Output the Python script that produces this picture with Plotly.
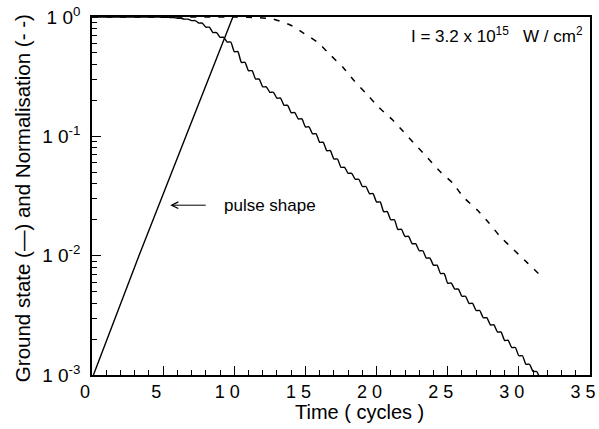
import plotly.graph_objects as go

# ---- data ----
pulse_t = [0.1, 3.3, 6.6, 9.9]
pulse_v = [0.001, 0.01, 0.1, 1.0]

# ground state: level reached at each half cycle
gs_t = [0.0, 4.5, 5.0, 5.5, 6.0, 6.5, 7.0, 7.5, 8.0, 8.5, 9.0, 9.5, 10.0, 10.5, 11.0, 11.5,
        12.0, 12.5, 13.0, 13.5, 14.0, 14.5, 15.0, 15.5, 16.0, 16.5, 17.0, 17.5, 18.0, 18.5,
        19.0, 19.5, 20.0, 20.5, 21.0, 21.5, 22.0, 22.5, 23.0, 23.5, 24.0, 24.5, 25.0, 25.5,
        26.0, 26.5, 27.0, 27.5, 28.0, 28.5, 29.0, 29.5, 30.0, 30.5, 31.0, 31.5]
gs_v = [1.0, 0.998, 0.995, 0.99, 0.975, 0.96, 0.933, 0.89, 0.822, 0.741, 0.676, 0.617, 0.513,
        0.417, 0.355, 0.302, 0.260, 0.234, 0.209, 0.182, 0.158, 0.140, 0.120, 0.105, 0.0891,
        0.0759, 0.0646, 0.0550, 0.0490, 0.0437, 0.0380, 0.0331, 0.0282, 0.0234, 0.0200,
        0.0166, 0.0145, 0.0126, 0.0110, 0.00955, 0.00832, 0.00708, 0.00589, 0.00525,
        0.00457, 0.00398, 0.00347, 0.00302, 0.00263, 0.00229, 0.00195, 0.00170, 0.00145,
        0.00123, 0.00107, 0.00092]

norm_t = [0.0, 10.0, 11.0, 12.0, 12.75, 13.94, 14.86, 15.92, 16.76, 17.68, 18.38, 19.23,
          20.14, 21.13, 21.9, 22.75, 23.6, 24.5, 25.35, 26.1, 27.1, 27.9, 28.7, 29.65,
          30.6, 31.7]
norm_v = [1.0, 1.0, 0.995, 0.98, 0.96, 0.857, 0.734, 0.605, 0.48, 0.374, 0.296, 0.231,
          0.176, 0.137, 0.109, 0.0845, 0.0658, 0.0502, 0.0406, 0.031, 0.024, 0.0188,
          0.0144, 0.0112, 0.0087, 0.0065]

x_ticks = [0, 5, 10, 15, 20, 25, 30, 35]
x_labels = ["0", "5", "1 0", "1 5", "2 0", "2 5", "3 0", "3 5"]
y_ticks = [0.001, 0.01, 0.1, 1.0]
y_labels = ["1 0<sup>-3</sup>", "1 0<sup>-2</sup>", "1 0<sup>-1</sup>", "1 0<sup>0</sup>"]

# staircase: each half-cycle level is held briefly, then drops to the next
hold = 0.25
st_x, st_y = [], []
for i, (t, v) in enumerate(zip(gs_t, gs_v)):
    st_x.append(t)
    st_y.append(v)
    if i < len(gs_t) - 1:
        st_x.append(t + hold)
        st_y.append(v)

FONT = "Liberation Sans, Arial, sans-serif"

fig = go.Figure()
fig.add_trace(go.Scatter(x=pulse_t, y=pulse_v, mode="lines",
                         line=dict(color="black", width=1.4), showlegend=False))
fig.add_trace(go.Scatter(x=st_x, y=st_y, mode="lines",
                         line=dict(color="black", width=1.4, shape="spline", smoothing=0.6),
                         showlegend=False))
fig.add_trace(go.Scatter(x=norm_t, y=norm_v, mode="lines",
                         line=dict(color="black", width=1.5, dash="6px,8px",
                                   shape="spline", smoothing=0.6),
                         showlegend=False))

fig.add_annotation(x=5.5, y=-1.577, xref="x", yref="y", text="",
                   showarrow=True, arrowhead=5, arrowsize=1.3, arrowwidth=1,
                   arrowcolor="black", ax=37, ay=0)
fig.add_annotation(x=9.15, y=-1.577, xref="x", yref="y", text="pulse shape",
                   showarrow=False, xanchor="left", yanchor="middle",
                   font=dict(family=FONT, size=17, color="black"))
fig.add_annotation(x=0.99, y=0.95, xref="paper", yref="paper",
                   text="I = 3.2 x 10<sup>15</sup>   W / cm<sup>2</sup>",
                   showarrow=False, xanchor="right", yanchor="middle",
                   font=dict(family=FONT, size=17, color="black"))
# axis titles
fig.add_annotation(x=0.538, y=-0.103, xref="paper", yref="paper",
                   text="Time ( cycles )", showarrow=False,
                   xanchor="center", yanchor="middle",
                   font=dict(family=FONT, size=20, color="black"))
fig.add_annotation(x=-0.1406, y=0.494, xref="paper", yref="paper",
                   text="Ground state (\u2014) and Normalisation (- -)", showarrow=False,
                   textangle=-90, xanchor="center", yanchor="middle",
                   font=dict(family=FONT, size=20.5, color="black"))

fig.update_layout(
    width=599, height=429,
    margin=dict(l=92, r=9, t=17, b=54),
    paper_bgcolor="white", plot_bgcolor="white",
    font=dict(family=FONT, color="black"),
    hovermode=False,
    xaxis=dict(range=[0, 35], tickvals=x_ticks, ticktext=x_labels, automargin=False,
               ticks="inside", ticklen=9, tickwidth=1.2, tickcolor="black",
               ticklabeloverflow="allow", ticklabelshift=-7,
               minor=dict(ticks="inside", ticklen=5, dtick=1, tickcolor="black", tickwidth=1),
               showline=True, linecolor="black", linewidth=1.5, mirror=True,
               showgrid=False, zeroline=False,
               tickfont=dict(family=FONT, size=18)),
    yaxis=dict(type="log", range=[-3, 0], tickvals=y_ticks, ticktext=y_labels,
               automargin=False, ticklabeloverflow="allow", ticklabelstandoff=6,
               ticks="inside", ticklen=9, tickwidth=1.2, tickcolor="black",
               minor=dict(ticks="inside", ticklen=5, tickcolor="black", tickwidth=1,
                          tickvals=[m * d for d in (0.001, 0.01, 0.1) for m in range(2, 10)]),
               showline=True, linecolor="black", linewidth=1.5, mirror=True,
               showgrid=False, zeroline=False,
               tickfont=dict(family=FONT, size=19)),
)

# remove the browser's default 8 px page margin so the figure fills the window
fig.write_html("out.html", config={"displayModeBar": False},
               post_script="document.body.style.margin='0';document.body.style.overflow='hidden';")
